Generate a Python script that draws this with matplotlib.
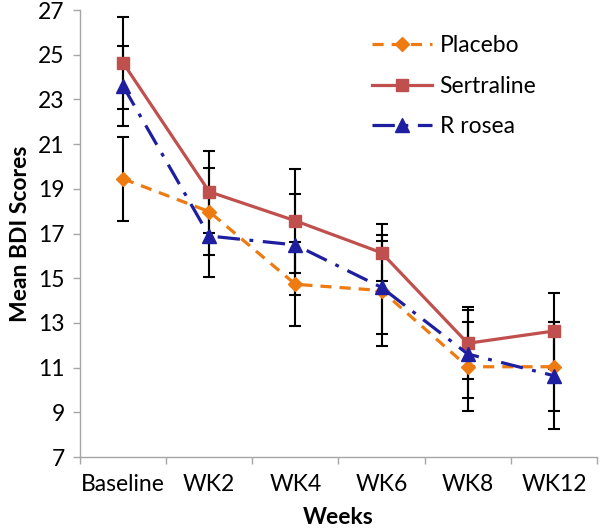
import numpy as np
import matplotlib
matplotlib.use("Agg")
import matplotlib.pyplot as plt

plt.rcParams['font.family'] = ['Lato', 'DejaVu Sans']

# data
weeks = ["Baseline", "WK2", "WK4", "WK6", "WK8", "WK12"]
placebo = [19.45, 17.98, 14.73, 14.45, 11.04, 11.04]
placebo_err = [1.88, 1.96, 1.87, 2.48, 2.0, 2.0]
sertraline = [24.64, 18.87, 17.57, 16.14, 12.09, 12.64]
sertraline_err = [2.05, 1.83, 2.32, 1.27, 1.61, 1.68]
rrosea = [23.6, 16.89, 16.49, 14.59, 11.61, 10.64]
rrosea_err = [1.8, 1.82, 2.26, 2.07, 1.95, 2.4]

c_plac = '#EE7A12'
c_sert = '#C0504D'
c_rose = '#1E1EA0'
grey = '#A6A6A6'

fig = plt.figure(figsize=(6.0, 5.29), dpi=100)
ax = fig.add_axes([0.1333, 0.136, 0.8617, 0.845])

x = np.arange(len(weeks))

# error bars (black, under markers)
for vals, errs in [(placebo, placebo_err), (sertraline, sertraline_err), (rrosea, rrosea_err)]:
    ax.errorbar(x, vals, yerr=errs, fmt='none', ecolor='black', elinewidth=1.5,
                capsize=4.5, capthick=1.5, zorder=2)

ax.plot(x, placebo, color=c_plac, lw=2.3, dashes=(3.5, 2.5), marker='D', ms=7,
        mec=c_plac, mfc=c_plac, label='Placebo', zorder=3)
ax.plot(x, sertraline, color=c_sert, lw=2.3, marker='s', ms=8.5,
        mec=c_sert, mfc=c_sert, label='Sertraline', zorder=3)
ax.plot(x, rrosea, color=c_rose, lw=2.3, dashes=(7, 3, 1.2, 3), marker='^', ms=9.5,
        mec=c_rose, mfc=c_rose, label='R rosea', zorder=3)

ax.set_xlim(-0.5, len(weeks) - 0.5)
ax.set_ylim(7, 27)
ax.set_yticks(np.arange(7, 28, 2))
ax.set_xticks(x)
ax.set_xticklabels(weeks)
ax.set_xticks(np.arange(-0.5, len(weeks)), minor=True)
ax.tick_params(axis='x', which='major', length=0, pad=12, labelsize=16.5)
ax.tick_params(axis='x', which='minor', length=5, color=grey, width=1)
ax.tick_params(axis='y', length=5, color=grey, width=1, labelsize=16.5, pad=6)

for s in ['top', 'right']:
    ax.spines[s].set_visible(False)
for s in ['left', 'bottom']:
    ax.spines[s].set_color(grey)
    ax.spines[s].set_linewidth(1)

ax.set_xlabel('Weeks', fontsize=16.5, fontweight='bold', labelpad=9)
ax.set_ylabel('Mean BDI Scores', fontsize=16.5, fontweight='bold', labelpad=5)

ax.legend(loc='upper left', bbox_to_anchor=(0.525, 0.99), frameon=False,
          fontsize=16.5, handlelength=2.6, labelspacing=0.85, handletextpad=0.35)

fig.savefig('out.png', dpi=100)
